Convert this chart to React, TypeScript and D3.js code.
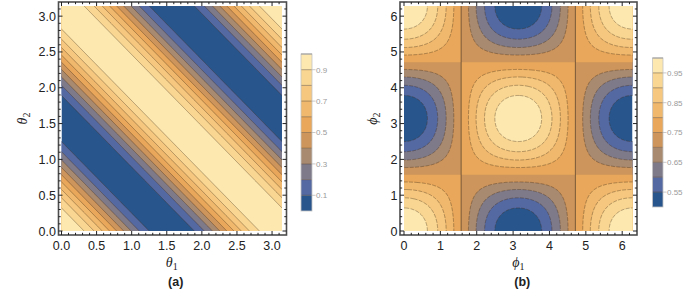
import React from 'react';
import * as d3 from 'd3';

// contour band colours, low -> high (Mathematica default scheme)
const bandColors = [
  '#28568c', '#5468a1', '#7e7a8a', '#a88a70', '#cd945b',
  '#e8a75a', '#efb86c', '#f5c77f', '#f9d792', '#fde8b0',
];

// panel (a): cos^2(theta1 + theta2)
const aLevels = [0.1, 0.2, 0.3, 0.4, 0.5, 0.6, 0.7, 0.8, 0.9];
const aTicks = [0, 0.5, 1.0, 1.5, 2.0, 2.5, 3.0];
const aLegendLabels = [0.1, 0.3, 0.5, 0.7, 0.9];

// panel (b): 0.75 + 0.25 cos(phi1) cos(phi2)
const bLevels = [0.55, 0.6, 0.65, 0.7, 0.75, 0.8, 0.85, 0.9, 0.95];
const bTicks = [0, 1, 2, 3, 4, 5, 6];
const bLegendLabels = [0.55, 0.65, 0.75, 0.85, 0.95];
const bSolidLines = [Math.PI / 2, (3 * Math.PI) / 2];

const fA = (t1: number, t2: number) => Math.cos(t1 + t2) ** 2;
const fB = (p1: number, p2: number) => 0.75 + 0.25 * Math.cos(p1) * Math.cos(p2);

const tickFont = '"Liberation Sans", Arial, sans-serif';

function contourPaths(f, max, levels, x, y, n = 220) {
  const pad = 4;
  const N = n + 2 * pad;
  const d = max / n;
  const values = new Array(N * N);
  for (let j = 0; j < N; j++) {
    for (let i = 0; i < N; i++) {
      values[j * N + i] = f((i - pad + 0.5) * d, (j - pad + 0.5) * d);
    }
  }
  const contours = d3.contours().size([N, N]).thresholds(levels)(values);
  const path = d3.geoPath(
    d3.geoTransform({
      point(gx, gy) {
        this.stream.point(x((gx - pad) * d), y((gy - pad) * d));
      },
    })
  );
  return contours.map((c) => ({ value: c.value, d: path(c) }));
}

function Panel({ id, f, max, levels, ticks, minorStep, xr, yr, frame, bar, legendLabels, legendDomain, dashed, solidLines, xLabel, yLabel, yLabelX, tag, fmt }) {
  const x = d3.scaleLinear().domain([0, max]).range(xr);
  const y = d3.scaleLinear().domain([0, max]).range(yr);
  const paths = contourPaths(f, max, levels, x, y);
  const minor = d3.range(0, max + 1e-9, minorStep);
  const [fl, fr, ft, fb] = frame;
  const cb = d3.scaleLinear().domain(legendDomain).range([bar.y1, bar.y0]);
  const bandEdges = [legendDomain[0], ...levels, legendDomain[1]];
  const lineStroke = 'rgba(70,50,30,0.55)';
  return (
    <g>
      <defs>
        <clipPath id={`clip-${id}`}>
          <rect x={x(0)} y={y(max)} width={x(max) - x(0)} height={y(0) - y(max)} />
        </clipPath>
      </defs>
      <g clipPath={`url(#clip-${id})`}>
        <rect x={x(0)} y={y(max)} width={x(max) - x(0)} height={y(0) - y(max)} fill={bandColors[0]} />
        {paths.map((p, i) => (
          <path key={`f${i}`} d={p.d} fill={bandColors[i + 1]} stroke="none" />
        ))}
        {paths
          .filter((p) => !(solidLines && Math.abs(p.value - 0.75) < 1e-9))
          .map((p, i) => (
            <path key={`l${i}`} d={p.d} fill="none" stroke={lineStroke} strokeWidth={0.7}
              strokeDasharray={dashed ? '4 1.3' : undefined} />
          ))}
        {solidLines &&
          solidLines.map((v) => (
            <line key={v} x1={x(v)} x2={x(v)} y1={y(0)} y2={y(max)} stroke="rgba(70,55,40,0.65)" strokeWidth={1} />
          ))}
      </g>
      {/* frame */}
      <rect x={fl} y={ft} width={fr - fl} height={fb - ft} fill="none" stroke="#4d4d4d" strokeWidth={1.6} />
      {minor.map((v, i) => {
        const major = ticks.some((t) => Math.abs(t - v) < 1e-6);
        const len = major ? 4 : 2.2;
        return (
          <g key={`t${i}`} stroke="#222" strokeWidth={1}>
            <line x1={x(v)} x2={x(v)} y1={fb} y2={fb - len} />
            <line x1={x(v)} x2={x(v)} y1={ft} y2={ft + len} />
            <line x1={fl} x2={fl + len} y1={y(v)} y2={y(v)} />
            <line x1={fr} x2={fr - len} y1={y(v)} y2={y(v)} />
          </g>
        );
      })}
      {ticks.map((t) => (
        <text key={`xl${t}`} x={x(t)} y={250} textAnchor="middle" fontFamily={tickFont} fontSize={12.5} fill="#222">
          {fmt(t)}
        </text>
      ))}
      {ticks.map((t) => (
        <text key={`yl${t}`} x={fl - 2.5} y={y(t)} dy="0.36em" textAnchor="end" fontFamily={tickFont} fontSize={12.5} fill="#222">
          {fmt(t)}
        </text>
      ))}
      {/* axis labels */}
      <text x={(x(0) + x(max)) / 2} y={267} textAnchor="middle" fontFamily='"Liberation Serif", serif' fontStyle="italic" fontSize={14} fill="#222">
        {xLabel}
        <tspan fontStyle="normal" fontSize={10} dy={2.5}>1</tspan>
      </text>
      <text transform={`translate(${yLabelX},${(y(0) + y(max)) / 2}) rotate(-90)`} textAnchor="middle" fontFamily='"Liberation Serif", serif' fontStyle="italic" fontSize={14} fill="#222">
        {yLabel}
        <tspan fontStyle="normal" fontSize={10} dy={2.5}>2</tspan>
      </text>
      <text x={(x(0) + x(max)) / 2 + 4} y={285.5} textAnchor="middle" fontFamily={tickFont} fontWeight="bold" fontSize={12.5} fill="#222">
        {tag}
      </text>
      {/* colour bar */}
      {bandColors.map((c, i) => (
        <rect key={`cb${i}`} x={bar.x0} width={bar.x1 - bar.x0} y={cb(bandEdges[i + 1])} height={cb(bandEdges[i]) - cb(bandEdges[i + 1])} fill={c} />
      ))}
      {levels.map((v) => (
        <line key={`cl${v}`} x1={bar.x0} x2={bar.x1} y1={cb(v)} y2={cb(v)} stroke="rgba(75,55,35,0.55)" strokeWidth={0.8} />
      ))}
      <rect x={bar.x0} y={bar.y0} width={bar.x1 - bar.x0} height={bar.y1 - bar.y0} fill="none" stroke="#c4c4c4" strokeWidth={0.8} />
      <line x1={bar.x0} x2={bar.x1} y1={bar.y0} y2={bar.y0} stroke="#999" strokeWidth={1} />
      {legendLabels.map((v) => (
        <g key={`ll${v}`}>
          <line x1={bar.x1} x2={bar.x1 + 3.5} y1={cb(v)} y2={cb(v)} stroke="#bbb" strokeWidth={0.8} />
          <text x={bar.x1 + 4} y={cb(v)} dy="0.35em" fontFamily={tickFont} fontSize={8} fill="#9a9a9a">
            {String(v)}
          </text>
        </g>
      ))}
    </g>
  );
}

export default function App() {
  return (
    <svg width={700} height={300} style={{ position: 'absolute', left: 0, top: 0, background: '#fff' }}>
      <Panel
        id="a" f={fA} max={Math.PI} levels={aLevels} ticks={aTicks} minorStep={0.1}
        xr={[61.5, 282]} yr={[231, 6]} frame={[58.5, 286.5, 2, 235]}
        bar={{ x0: 301, x1: 312, y0: 54, y1: 211 }} legendLabels={aLegendLabels} legendDomain={[0, 1]}
        dashed={false} solidLines={null} xLabel="θ" yLabel="θ" yLabelX={27} tag="(a)"
        fmt={d3.format('.1f')}
      />
      <Panel
        id="b" f={fB} max={2 * Math.PI} levels={bLevels} ticks={bTicks} minorStep={0.2}
        xr={[404, 632.5]} yr={[231, 6]} frame={[400, 637, 2, 235]}
        bar={{ x0: 652.5, x1: 663, y0: 58, y1: 207 }} legendLabels={bLegendLabels} legendDomain={[0.5, 1]}
        dashed={true} solidLines={bSolidLines} xLabel="ϕ" yLabel="ϕ" yLabelX={377} tag="(b)"
        fmt={d3.format('d')}
      />
    </svg>
  );
}
